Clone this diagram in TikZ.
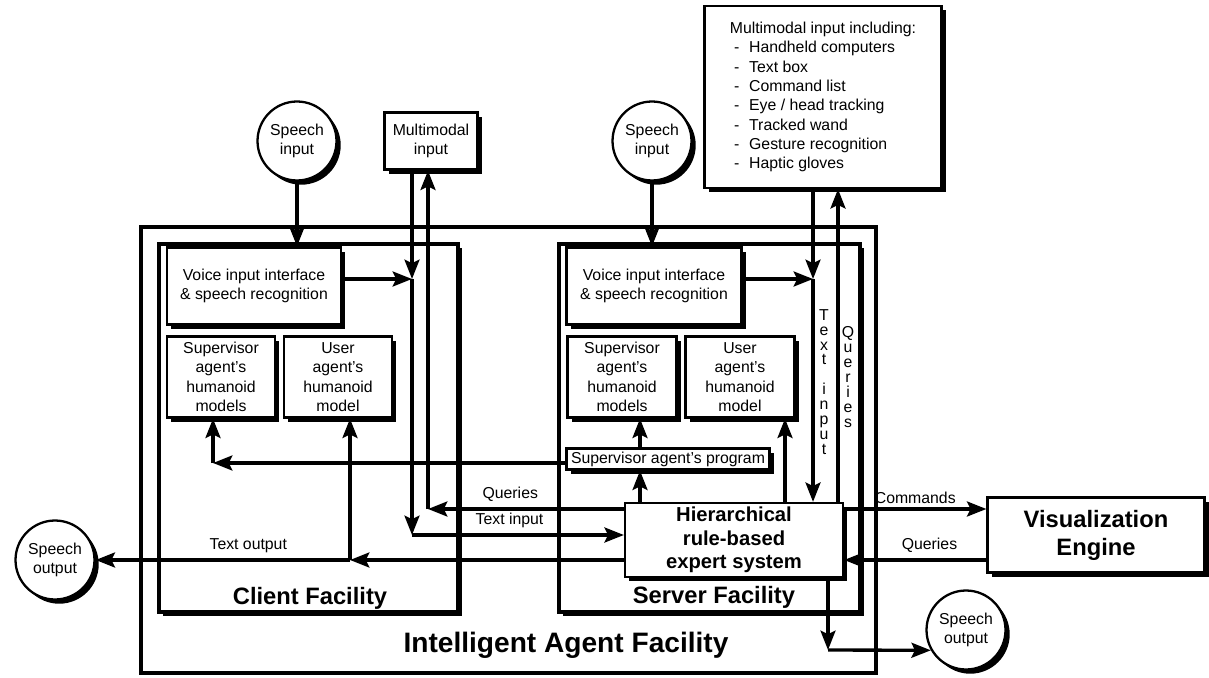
\documentclass[tikz,border=0pt]{standalone}
\usepackage{fontspec}
\setmainfont{Liberation Sans}
\usepackage{tikz}
\usetikzlibrary{positioning,shapes,arrows.meta,shadows}

\begin{document}
\begin{tikzpicture}[
    x=0.02cm, y=-0.02cm,
    every node/.style={font=\fontsize{9}{11}\selectfont},
    dropped/.style={drop shadow={shadow xshift=2.4pt, shadow yshift=-2.4pt, fill=black, opacity=1}},
    box/.style={rectangle, draw, line width=1.3pt, fill=white, align=center, inner sep=2pt, dropped},
    bubble/.style={circle, draw, line width=1.3pt, fill=white, align=center, minimum size=1.58cm, inner sep=0pt, dropped},
    facility/.style={draw, line width=2.2pt, fill=white, dropped},
    title/.style={font=\fontsize{13.5}{16}\selectfont\bfseries},
    arrow/.style={-{Stealth[length=11pt, width=8.5pt, inset=2pt]}, line width=1.9pt},
    vtext/.style={font=\fontsize{9}{8.5}\selectfont, align=center, inner sep=0pt},
]
\useasboundingbox (0,0) rectangle (1209,678);
% facilities
\draw[line width=2.8pt, fill=white] (141,227) rectangle (876,673);
\draw[facility] (159,244) rectangle (458,612);
\draw[facility] (559,244) rectangle (860,612);
\node[title, font=\fontsize{16}{19}\selectfont\bfseries] (iaf) at (566,645) {Intelligent Agent Facility};
\node[title] (cft) at (310,598) {Client Facility};
\node[title] (sft) at (714,597) {Server Facility};
% inputs
\node[bubble] (spinL) at (297,141) {Speech\\input};
\node[box, minimum width=1.86cm, minimum height=1.14cm] (mmin) at (431,141) {Multimodal\\input};
\node[bubble] (spinR) at (652,141) {Speech\\input};
\node[box, minimum width=4.74cm, minimum height=3.64cm, align=left] (mmbig) at (823,97) {Multimodal input including:\\
    \hspace*{2.5pt}-\hspace{5.5pt}Handheld computers\\
    \hspace*{2.5pt}-\hspace{5.5pt}Text box\\
    \hspace*{2.5pt}-\hspace{5.5pt}Command list\\
    \hspace*{2.5pt}-\hspace{5.5pt}Eye / head tracking\\
    \hspace*{2.5pt}-\hspace{5.5pt}Tracked wand\\
    \hspace*{2.5pt}-\hspace{5.5pt}Gesture recognition\\
    \hspace*{2.5pt}-\hspace{5.5pt}Haptic gloves};
% client
\node[box, minimum width=3.48cm, minimum height=1.54cm] (voiceL) at (254,286) {Voice input interface\\\& speech recognition};
\node[box, minimum width=2.16cm, minimum height=1.62cm] (supL) at (221,377) {Supervisor\\agent's\\humanoid\\models};
\node[box, minimum width=2.16cm, minimum height=1.62cm] (userL) at (338,377) {User\\agent's\\humanoid\\model};
% server
\node[box, minimum width=3.5cm, minimum height=1.54cm] (voiceR) at (654,286) {Voice input interface\\\& speech recognition};
\node[box, minimum width=2.18cm, minimum height=1.62cm] (supR) at (622,377) {Supervisor\\agent's\\humanoid\\models};
\node[box, minimum width=2.18cm, minimum height=1.62cm] (userR) at (740,377) {User\\agent's\\humanoid\\model};
\node[box, minimum width=4.06cm, minimum height=0.42cm, inner sep=1pt] (prog) at (668,459) {Supervisor agent's program};
\node[box, minimum width=4.36cm, minimum height=1.48cm, font=\fontsize{11.5}{13.5}\selectfont\bfseries] (hier) at (734,540) {Hierarchical\\rule-based\\expert system};
% outputs
\node[box, minimum width=4.34cm, minimum height=1.5cm, title] (vis) at (1096,535) {Visualization\\Engine};
\node[bubble] (spoutL) at (55,560) {Speech\\output};
\node[bubble] (spoutR) at (966,630) {Speech\\output};
\node[vtext] (tiV) at (824,382) {T\\e\\x\\t\\[8.5pt]i\\n\\p\\u\\t};
\node[vtext] (quV) at (848,377) {Q\\u\\e\\r\\i\\e\\s};
% junction points
\coordinate (jL) at (412,279);
\coordinate (jR) at (813,279);
\coordinate (qL) at (428,509);
\coordinate (tiL) at (412,535);
\coordinate (toL) at (350,560);
\coordinate (svL) at (213,463);
\coordinate (soR) at (828,650);
\coordinate (qR) at (838,380);
\coordinate (pgR) at (640,480);
\coordinate (usR) at (785,480);
\coordinate (cmd) at (900,509);
\coordinate (qv) at (900,560);
% client side
\draw[arrow] (spinL) -- (spinL |- voiceL.north);
\draw[arrow] (voiceL.east |- jL) -- (jL);
\draw[arrow] (mmin.south -| jL) -- (jL);
\draw[arrow] (jL) -- (tiL);
\draw[arrow] (tiL) -- (hier.west |- tiL) node[pos=0.46, above] {Text input};
\draw[arrow] (hier.west |- qL) -- (qL) node[pos=0.58, above] {Queries};
\draw[arrow] (qL) -- (mmin.south -| qL);
\draw[arrow] (prog.west |- svL) -- (svL);
\draw[arrow] (svL) -- (supL.south -| svL);
\draw[arrow] (hier.west |- toL) -- (toL);
\draw[arrow] (toL) -- (spoutL) node[pos=0.4, above] {Text output};
\draw[arrow] (toL) -- (userL.south -| toL);
% server side
\draw[arrow] (spinR) -- (spinR |- voiceR.north);
\draw[arrow] (voiceR.east |- jR) -- (jR);
\draw[arrow] (mmbig.south -| jR) -- (jR);
\draw[arrow] (jR) -- (hier.north -| jR);
\draw[arrow] (hier.north -| qR) -- (mmbig.south -| qR);
\draw[arrow] (hier.north -| pgR) -- (prog.south -| pgR);
\draw[arrow] (prog.north -| pgR) -- (supR.south -| pgR);
\draw[arrow] (hier.north -| usR) -- (userR.south -| usR);
\draw[arrow] (hier.east |- cmd) -- (vis.west |- cmd) node[midway, above=-1pt] {Commands};
\draw[arrow] (vis.west |- qv) -- (hier.east |- qv) node[pos=0.4, above] {Queries};
\draw[arrow] (hier.south -| soR) -- (soR);
\draw[arrow] (soR) -- (spoutR.210);
\end{tikzpicture}
\end{document}
